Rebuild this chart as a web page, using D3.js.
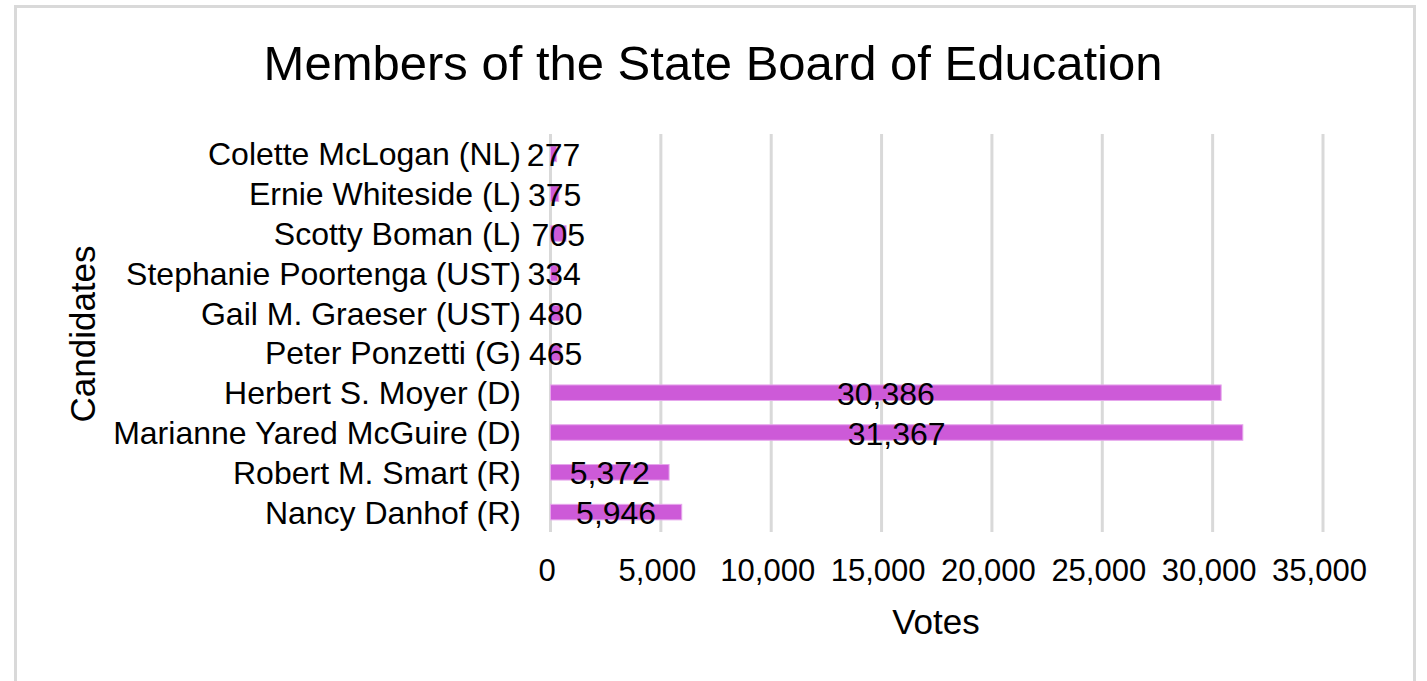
<!DOCTYPE html>
<html lang="en">

<head>
    <meta charset="UTF-8">
    <title>Members of the State Board of Education</title>
    <script src="https://cdn.jsdelivr.net/npm/d3@7"></script>
    <style>
        html, body { margin: 0; padding: 0; background: #fff; }
        svg { display: block; font-family: "Liberation Sans", Arial, sans-serif; }
    </style>
</head>

<body>
    <svg width="1427" height="681" id="bar-svg"></svg>

    <script type="text/javascript">
        // candidates, top to bottom
        var candidates = [
            "Colette McLogan (NL)",
            "Ernie Whiteside (L)",
            "Scotty Boman (L)",
            "Stephanie Poortenga (UST)",
            "Gail M. Graeser (UST)",
            "Peter Ponzetti (G)",
            "Herbert S. Moyer (D)",
            "Marianne Yared McGuire (D)",
            "Robert M. Smart (R)",
            "Nancy Danhof (R)"
        ];
        var votes = [277, 375, 705, 334, 480, 465, 30386, 31367, 5372, 5946];
        var xTicks = [0, 5000, 10000, 15000, 20000, 25000, 30000, 35000];

        var svg = d3.select("#bar-svg");
        var fmt = d3.format(",");

        // chart frame
        svg.append("rect")
            .attr("x", 15.5).attr("y", 6.5)
            .attr("width", 1399).attr("height", 700)
            .attr("fill", "#fff")
            .attr("stroke", "#d9d9d9")
            .attr("stroke-width", 3);

        var xScale = d3.scaleLinear()
            .domain([0, 35000])
            .range([550.5, 1323]);

        var yScale = d3.scaleBand()
            .domain(candidates)
            .range([134, 532])
            .paddingInner(0.61)
            .paddingOuter(0.305);

        // vertical gridlines
        svg.append("g")
            .selectAll("line")
            .data(xTicks)
            .enter()
            .append("line")
            .attr("x1", function (d) { return xScale(d); })
            .attr("x2", function (d) { return xScale(d); })
            .attr("y1", 134)
            .attr("y2", 532)
            .attr("stroke", "#d9d9d9")
            .attr("stroke-width", 3);

        // x axis tick labels (no axis line)
        var xAxis = d3.axisBottom(xScale)
            .tickValues(xTicks)
            .tickFormat(fmt)
            .tickSize(0)
            .tickPadding(0);
        var gx = svg.append("g")
            .attr("transform", "translate(-4,559)")
            .call(xAxis);
        gx.select(".domain").remove();
        gx.selectAll("text")
            .attr("dy", "0.71em")
            .attr("fill", "#000")
            .style("font-size", "31px")
            .style("font-family", "\"Liberation Sans\", Arial, sans-serif");

        // y axis category labels
        var yAxis = d3.axisLeft(yScale).tickSize(0).tickPadding(0);
        var gy = svg.append("g")
            .attr("transform", "translate(521,0)")
            .call(yAxis);
        gy.select(".domain").remove();
        gy.selectAll("text")
            .attr("dy", "0.36em")
            .attr("fill", "#000")
            .style("font-size", "32px")
            .style("font-family", "\"Liberation Sans\", Arial, sans-serif");

        // bars
        var bandH = yScale.bandwidth();
        svg.append("g")
            .selectAll("rect")
            .data(votes)
            .enter()
            .append("rect")
            .attr("x", xScale(0))
            .attr("y", function (d, i) { return yScale(candidates[i]); })
            .attr("width", function (d) { return xScale(d) - xScale(0); })
            .attr("height", bandH)
            .attr("fill", "#cd5ad8")
            .attr("stroke", "#e6a6ec")
            .attr("stroke-width", 1);

        // value labels centred on bars
        svg.append("g")
            .selectAll("text")
            .data(votes)
            .enter()
            .append("text")
            .attr("x", function (d) { return (xScale(0) + xScale(d)) / 2; })
            .attr("y", function (d, i) { return yScale(candidates[i]) + bandH / 2 + 12; })
            .attr("text-anchor", "middle")
            .attr("font-size", "32px")
            .attr("fill", "#000")
            .text(function (d) { return fmt(d); });

        // title
        svg.append("text")
            .attr("x", 713)
            .attr("y", 80)
            .attr("text-anchor", "middle")
            .attr("font-size", "49px")
            .attr("fill", "#000")
            .text("Members of the State Board of Education");

        // axis titles
        svg.append("text")
            .attr("x", 936)
            .attr("y", 634)
            .attr("text-anchor", "middle")
            .attr("font-size", "35px")
            .attr("fill", "#000")
            .text("Votes");

        svg.append("text")
            .attr("transform", "translate(95,334) rotate(-90)")
            .attr("text-anchor", "middle")
            .attr("font-size", "35px")
            .attr("fill", "#000")
            .text("Candidates");
    </script>
</body>

</html>
